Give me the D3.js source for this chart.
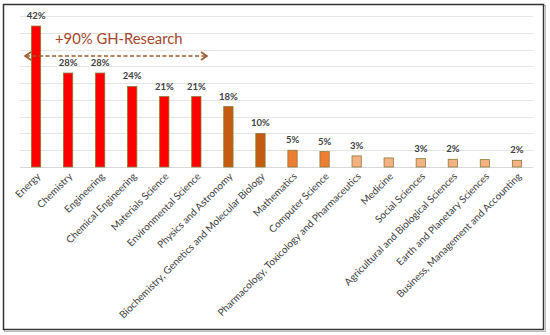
<!DOCTYPE html>
<html><head><meta charset="utf-8">
<script src="https://cdn.jsdelivr.net/npm/d3@7"></script>
<style>body{margin:0;background:#fff;} svg{display:block;}</style>
</head><body>
<svg id="c" width="550" height="335"></svg>
<script>
const categories = ["Energy","Chemistry","Engineering","Chemical Engineering","Materials Science","Environmental Science","Physics and Astronomy","Biochemistry, Genetics and Molecular Biology","Mathematics","Computer Science","Pharmacology, Toxicology and Pharmaceutics","Medicine","Social Sciences","Agricultural and Biological Sciences","Earth and Planetary Sciences","Business, Management and Accounting"];
const values = [42,28,28,24,21,21,18,10,5,4.6,3.3,2.7,2.5,2.3,2.2,2.0];
const valueLabels = ["42%","28%","28%","24%","21%","21%","18%","10%","5%","5%","3%","","3%","2%","","2%"];
const barColors = ["#ff0000","#ff0000","#ff0000","#ff0000","#ff0000","#ff0000","#c55a11","#c55a11","#ed7d31","#ed7d31","#f4b183","#f4b183","#f4b183","#f4b183","#f4b183","#f4b183"];
const yTicks = [0,5,10,15,20,25,30,35,40,45];
const annotationText = "+90% GH-Research";

(function(){
const svg = d3.select("#c");
const font = "Lato, 'Open Sans', sans-serif";
const pL = 20, pR = 533, pT = 16, pB = 167;

svg.append("rect").attr("x",4.5).attr("y",5.5).attr("width",541).attr("height",326)
  .attr("fill","none").attr("stroke","#bbb").attr("stroke-width",1);
svg.append("rect").attr("x",3.5).attr("y",4.5).attr("width",540).attr("height",325)
  .attr("fill","#fff").attr("stroke","#333").attr("stroke-width",1.5);

const x = d3.scaleBand().domain(categories).range([pL,pR]).paddingInner(0.71).paddingOuter(0.355);
const y = d3.scaleLinear().domain([0,45]).range([pB,pT]);

svg.append("g").selectAll("line").data(yTicks).join("line")
  .attr("x1",pL).attr("x2",pR)
  .attr("y1",d=>Math.round(y(d))+0.5).attr("y2",d=>Math.round(y(d))+0.5)
  .attr("stroke",d=>d===0?"#d9d9d9":"#e6e6e6").attr("stroke-width",1);

svg.append("g").selectAll("rect").data(categories).join("rect")
  .attr("x",d=>x(d)).attr("width",x.bandwidth())
  .attr("y",(d,i)=>y(values[i])).attr("height",(d,i)=>y(0)-y(values[i]))
  .attr("fill",(d,i)=>barColors[i]).attr("stroke","#8c7b36").attr("stroke-width",0.8);

svg.append("g").selectAll("text").data(categories).join("text")
  .attr("x",d=>x(d)+x.bandwidth()/2).attr("y",(d,i)=>y(values[i])-7)
  .attr("text-anchor","middle").attr("font-family",font).attr("font-weight","bold")
  .attr("font-size",9.5).attr("fill","#404040")
  .text((d,i)=>valueLabels[i]);

svg.append("g").selectAll("text").data(categories).join("text")
  .attr("transform",d=>`translate(${x(d)+x.bandwidth()/2+5},${pB+10}) rotate(-45)`)
  .attr("text-anchor","end").attr("font-family",font).attr("font-size",10)
  .attr("fill","#404040").text(d=>d);

svg.append("text").attr("x",55).attr("y",44).attr("font-family",font).attr("font-size",14.8)
  .attr("fill","#a5452a").text(annotationText);

const ay = 56, ax1 = 25, ax2 = 207;
const ac = "#a0592a";
svg.append("line").attr("x1",ax1+1).attr("x2",ax2-1).attr("y1",ay).attr("y2",ay)
  .attr("stroke",ac).attr("stroke-width",1.5).attr("stroke-dasharray","4,2.5");
svg.append("path").attr("d",`M${ax1+6},${ay-4} L${ax1},${ay} L${ax1+6},${ay+4}`)
  .attr("fill","none").attr("stroke",ac).attr("stroke-width",1.6);
svg.append("path").attr("d",`M${ax2-6},${ay-4} L${ax2},${ay} L${ax2-6},${ay+4}`)
  .attr("fill","none").attr("stroke",ac).attr("stroke-width",1.6);
})();
</script>
</body></html>
